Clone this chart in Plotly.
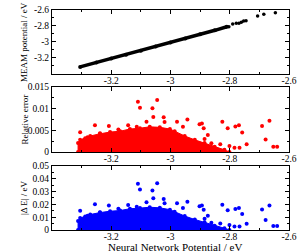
import plotly.graph_objects as go

# ---------------- data ----------------
# top panel: dense band of MEAM vs NN energies
band_nn   = [-3.305, -3.25, -3.20, -3.15, -3.10, -3.05, -3.00, -2.95, -2.90, -2.85, -2.81]
band_meam = [-3.320, -3.265, -3.215, -3.165, -3.115, -3.063, -3.012, -2.960, -2.908, -2.857, -2.812]
top_nn    = [-2.803, -2.790, -2.778, -2.769, -2.761, -2.753, -2.745, -2.706, -2.685, -2.646]
top_meam  = [-2.812, -2.778, -2.769, -2.769, -2.756, -2.740, -2.736, -2.676, -2.655, -2.634]

# middle/bottom panels: dense region outline + sparse points
blob_nn  = [-3.312, -3.312, -3.305, -3.288, -3.271, -3.238, -3.204, -3.170, -3.137, -3.103,
            -3.070, -3.036, -3.002, -2.986, -2.952, -2.918, -2.885, -2.851, -2.818, -2.801]
blob_rel = [0.0, 0.0021, 0.0028, 0.0032, 0.0037, 0.0042, 0.0046, 0.0048, 0.0053, 0.0055,
            0.0058, 0.0057, 0.0053, 0.0048, 0.0037, 0.0028, 0.0021, 0.0012, 0.0005, 0.0]
blob_abs = [0.0, 0.0070, 0.0093, 0.0105, 0.0121, 0.0136, 0.0147, 0.0152, 0.0166, 0.0171,
            0.0178, 0.0173, 0.0159, 0.0143, 0.0109, 0.0082, 0.0061, 0.0034, 0.0014, 0.0]

pts_nn  = [-3.305, -3.280, -3.255, -3.238, -3.208, -3.176, -3.143, -3.110, -3.103, -3.114,
           -3.081, -3.045, -3.061, -3.058, -3.023, -3.020, -2.978, -2.943, -2.958, -2.902,
           -2.894, -2.888, -2.832, -2.825, -2.807, -2.781, -2.769, -2.758, -2.743, -2.691,
           -2.666, -2.679, -2.653, -2.640, -2.801, -2.784, -2.767, -2.862, -2.885, -2.874]
pts_rel = [0.00455, 0.0034, 0.0062, 0.0043, 0.0060, 0.0052, 0.0062, 0.0116, 0.0102, 0.0058,
           0.0070, 0.0120, 0.0101, 0.0081, 0.0080, 0.0069, 0.0070, 0.0075, 0.0058, 0.0064,
           0.0066, 0.0055, 0.0018, 0.0070, 0.0055, 0.0059, 0.0062, 0.0045, 0.0018, 0.0060,
           0.0072, 0.0029, 0.0012, 0.0012, 0.0014, 0.0010, 0.0010, 0.0020, 0.0030, 0.0039]
pts_abs = [0.0150, 0.0112, 0.0202, 0.0139, 0.0192, 0.0165, 0.0195, 0.0361, 0.0317, 0.0181,
           0.0216, 0.0365, 0.0309, 0.0248, 0.0242, 0.0208, 0.0208, 0.0221, 0.0172, 0.0186,
           0.0191, 0.0159, 0.0051, 0.0198, 0.0154, 0.0164, 0.0172, 0.0124, 0.0049, 0.0161,
           0.0192, 0.0078, 0.0032, 0.0032, 0.0039, 0.0028, 0.0028, 0.0057, 0.0087, 0.0112]

x_ticks = [-3.4, -3.2, -3.0, -2.8, -2.6]
x_ticktext = ["", "-3.2", "-3", "-2.8", "-2.6"]
x_minor = [-3.3, -3.1, -2.9, -2.7]

y1_ticks = [-3.4, -3.2, -3.0, -2.8, -2.6]
y1_ticktext = ["", "-3.2", "-3", "-2.8", "-2.6"]
y1_minor = [-3.3, -3.1, -2.9, -2.7]

y2_ticks = [0, 0.005, 0.01, 0.015]
y2_ticktext = ["0", "0.005", "0.01", "0.015"]
y2_minor = [0.0025, 0.0075, 0.0125]

y3_ticks = [0, 0.01, 0.02, 0.03, 0.04, 0.05]
y3_ticktext = ["0", "0.01", "0.02", "0.03", "0.04", "0.05"]
y3_minor = [0.005, 0.015, 0.025, 0.035, 0.045]

x_title = "Neural Network Potential / eV"
y_titles = ["MEAM potential / eV", "Relative error", "|Δ E| / eV"]

# ---------------- figure ----------------
FONT = "Liberation Serif"
fig = go.Figure()

fig.add_trace(go.Scatter(x=band_nn, y=band_meam, mode="lines+markers",
                         line=dict(color="black", width=3.5),
                         marker=dict(color="black", size=4),
                         xaxis="x", yaxis="y"))
fig.add_trace(go.Scatter(x=top_nn, y=top_meam, mode="markers",
                         marker=dict(color="black", size=3.5),
                         xaxis="x", yaxis="y"))

fig.add_trace(go.Scatter(x=blob_nn, y=blob_rel, mode="lines+markers", fill="toself",
                         fillcolor="#ff0000", line=dict(color="#ff0000", width=1),
                         marker=dict(color="#ff0000", size=4),
                         xaxis="x2", yaxis="y2"))
fig.add_trace(go.Scatter(x=pts_nn, y=pts_rel, mode="markers",
                         marker=dict(color="#ff0000", size=4),
                         xaxis="x2", yaxis="y2"))

fig.add_trace(go.Scatter(x=blob_nn, y=blob_abs, mode="lines+markers", fill="toself",
                         fillcolor="#0000ff", line=dict(color="#0000ff", width=1),
                         marker=dict(color="#0000ff", size=4),
                         xaxis="x3", yaxis="y3"))
fig.add_trace(go.Scatter(x=pts_nn, y=pts_abs, mode="markers",
                         marker=dict(color="#0000ff", size=4),
                         xaxis="x3", yaxis="y3"))

tickfont = dict(family=FONT, size=9.5, color="black")
xtitlefont = dict(family=FONT, size=11, color="black")
ytitlefont = dict(family=FONT, size=9, color="black")

def xax(anchor):
    return dict(range=[-3.4, -2.6], anchor=anchor, domain=[0, 1], automargin=False,
                tickmode="array", tickvals=x_ticks, ticktext=x_ticktext,
                ticks="inside", ticklen=4, tickcolor="black", tickwidth=1,
                ticklabelstandoff=-2,
                minor=dict(tickmode="array", tickvals=x_minor, ticks="inside",
                           ticklen=2, tickcolor="black"),
                showline=True, linecolor="black", linewidth=1, mirror="allticks",
                showgrid=False, zeroline=False, tickfont=tickfont)

def yax(anchor, rng, dom, tv, tt, mn):
    return dict(range=rng, anchor=anchor, domain=dom, automargin=False,
                tickmode="array", tickvals=tv, ticktext=tt,
                ticks="inside", ticklen=4, tickcolor="black", tickwidth=1,
                minor=dict(tickmode="array", tickvals=mn, ticks="inside",
                           ticklen=2, tickcolor="black"),
                showline=True, linecolor="black", linewidth=1, mirror="allticks",
                showgrid=False, zeroline=False, tickfont=tickfont)

fig.update_layout(
    width=299, height=252,
    margin=dict(l=52, r=10, t=10, b=22),
    paper_bgcolor="white", plot_bgcolor="white",
    showlegend=False,
    xaxis=xax("y"),
    xaxis2=xax("y2"),
    xaxis3=xax("y3"),
    yaxis=yax("x", [-3.41, -2.6], [0.709, 1.0], y1_ticks, y1_ticktext, y1_minor),
    yaxis2=yax("x2", [0, 0.015], [0.3545, 0.65], y2_ticks, y2_ticktext, y2_minor),
    yaxis3=yax("x3", [0, 0.05], [0, 0.291], y3_ticks, y3_ticktext, y3_minor),
)

# axis titles as annotations for precise placement
fig.add_annotation(text=x_title, xref="paper", yref="paper", x=0.52, y=-0.079,
                   xanchor="center", yanchor="middle", showarrow=False, font=xtitlefont)
for yref, t in zip(["y domain", "y2 domain", "y3 domain"], y_titles):
    fig.add_annotation(text=t, xref="paper", yref=yref, x=-0.118, y=0.5,
                       xanchor="center", yanchor="middle", textangle=-90,
                       showarrow=False, font=ytitlefont)

fig.write_html("out.html", config={"displayModeBar": False},
               post_script="document.body.style.margin='0';")
